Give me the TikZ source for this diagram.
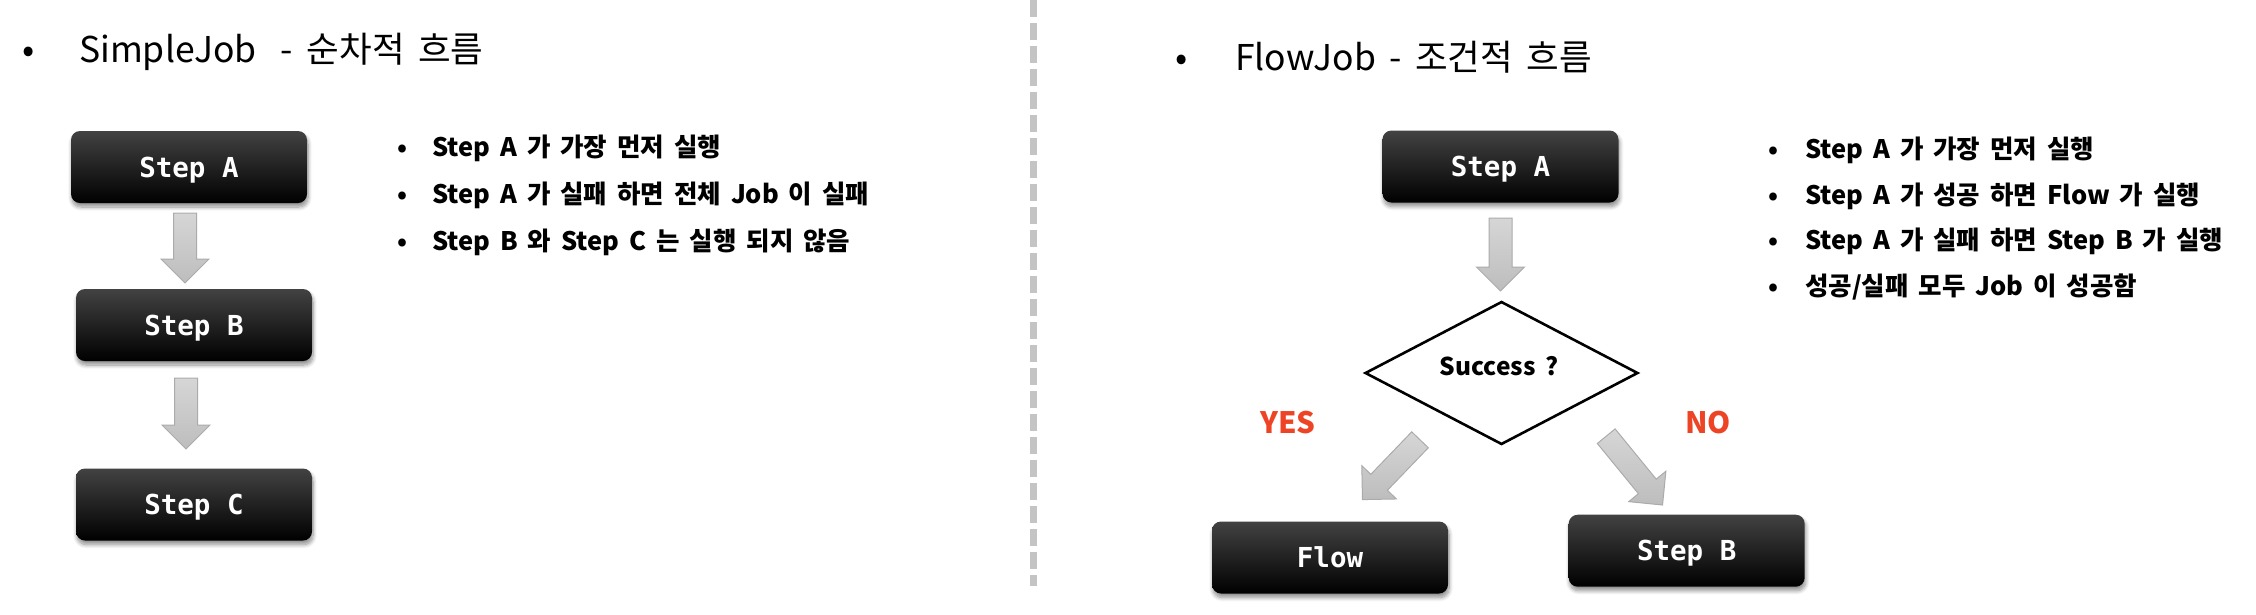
\documentclass[tikz,border=0pt]{standalone}
\usepackage{fontspec}
\setmainfont{Noto Sans CJK KR}[WordSpace=1.7]
\newfontfamily\boxfont{DejaVu Sans Mono}
\usetikzlibrary{shapes.geometric,shadows.blur}
\definecolor{yesred}{HTML}{EE4426}
\definecolor{arrowtop}{HTML}{D6D6D6}
\definecolor{arrowbot}{HTML}{BDBDBD}
\definecolor{arrowline}{HTML}{ABABAB}
\definecolor{divgray}{HTML}{C4C4C4}
% #1 tail centre, #2 angle, #3 length
\newcommand\blockarrow[3]{%
  \begin{scope}[shift={(#1)},rotate=#2]
    \path[arrowshape] (0,-11.5) -- (#3-24,-11.5) -- (#3-24,-24) -- (#3,0) -- (#3-24,24) -- (#3-24,11.5) -- (0,11.5) -- cycle;
  \end{scope}}
\tikzset{
  stepbox/.style={rounded corners=9pt, minimum width=236pt, minimum height=72pt, inner sep=0pt,
    top color=black!74, middle color=black, bottom color=black, text=white,
    font=\boxfont\bfseries\fontsize{27.5}{27.5}\selectfont, text height=20pt, text depth=0pt,
    blur shadow={shadow xshift=1pt, shadow yshift=-4pt, shadow blur steps=8, shadow blur radius=4pt, shadow opacity=45}},
  arrowshape/.style={top color=arrowtop, bottom color=arrowbot, draw=arrowline, line width=1pt},
  titletext/.style={anchor=base west, inner sep=0pt, font=\fontsize{35.5}{35.5}\selectfont},
  bullettext/.style={anchor=base west, inner sep=0pt, font=\bfseries\fontsize{25.5}{25.5}\selectfont},
  dot/.style={anchor=base, inner sep=0pt},
  labeltext/.style={anchor=base west, inner sep=0pt, text=yesred, font=\bfseries\fontsize{29.5}{29.5}\selectfont},
}
\begin{document}
\begin{tikzpicture}[x=1pt,y=-1pt]
\useasboundingbox (0,0) rectangle (2256,614);
% divider
\draw[divgray, line width=7pt, dash pattern=on 17pt off 6pt] (1033,0) -- (1033,586);
% titles
\node[dot, font=\fontsize{36}{36}\selectfont] (tb1) at (29,62) {•};
\node[titletext] (t1) at (79,62) {SimpleJob\hspace{11pt} - 순차적 흐름};
\node[dot, font=\fontsize{36}{36}\selectfont] (tb2) at (1182,70) {•};
\node[titletext] (t2) at (1235,70) {FlowJob - 조건적 흐름};
% left flow
\node[stepbox] (la) at (189,167) {Step A};
\node[stepbox] (lb) at (194,325) {Step B};
\node[stepbox] (lc) at (194,504.5) {Step C};
\blockarrow{185,213}{-90}{70}
\blockarrow{186,378}{-90}{71}
% left bullets
\foreach \yy/\tx in {156/{Step A 가 가장 먼저 실행}, 203/{Step A 가 실패 하면 전체 Job 이 실패}, 250/{Step B 와 Step C 는 실행 되지 않음}}{
  \node[dot, font=\bfseries\fontsize{25}{25}\selectfont] at (402,\yy) {•};
  \node[bullettext] at (432,\yy) {\tx};
}
% right flow
\node[stepbox] (ra) at (1500.5,166.5) {Step A};
\blockarrow{1500.5,218}{-90}{73}
\node[diamond, draw, line width=2.6pt, minimum width=273pt, minimum height=143pt, inner sep=0pt] (dec) at (1501.5,373) {};
\node[anchor=base, inner sep=0pt, font=\bfseries\fontsize{24.5}{24.5}\selectfont] (dectext) at (1499,375) {Success ?};
\node[labeltext] (yes) at (1260,433) {YES};
\node[labeltext] (no) at (1685,433) {NO};
\blockarrow{1420,439.8}{-133.9}{83}
\blockarrow{1606.2,436.2}{-50.7}{88.9}
\node[stepbox] (flow) at (1330,557.5) {Flow};
\node[stepbox] (rb) at (1686.7,550.7) {Step B};
% right bullets
\foreach \yy/\tx in {158.3/{Step A 가 가장 먼저 실행}, 204/{Step A 가 성공 하면 Flow 가 실행}, 249.5/{Step A 가 실패 하면 Step B 가 실행}, 295/{성공/실패 모두 Job 이 성공함}}{
  \node[dot, font=\bfseries\fontsize{25}{25}\selectfont] at (1773,\yy) {•};
  \node[bullettext] at (1805,\yy) {\tx};
}
\end{tikzpicture}
\end{document}
